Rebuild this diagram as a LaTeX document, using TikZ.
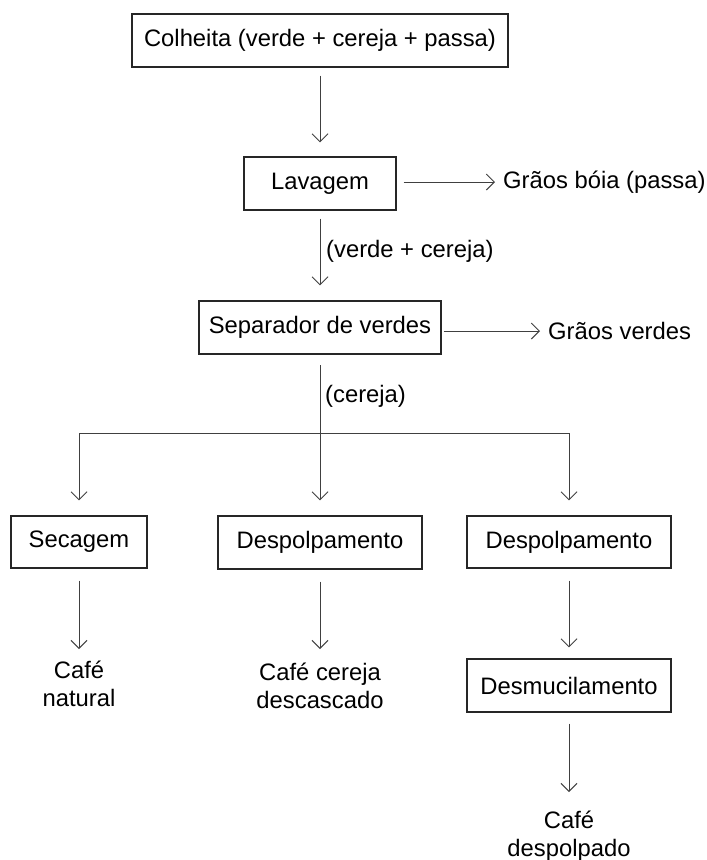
\documentclass[tikz,border=0pt]{standalone}
\usepackage{fontspec}
\setmainfont{Liberation Sans}
\usetikzlibrary{arrows.meta}
\begin{document}
\begin{tikzpicture}[x=1pt,y=-1pt,
  every node/.style={font=\fontsize{23.8}{28}\selectfont, inner sep=0pt, text=black},
  procbox/.style={draw=black!85, line width=1.1pt, minimum height=53pt},
  flow/.style={draw=black!75, line width=1pt, -{Straight Barb[length=8pt,width=16pt]}},
  plain/.style={draw=black!75, line width=1pt},
  outtext/.style={align=center}]
\useasboundingbox (0,0) rectangle (707,860);

% boxes
\node[procbox, minimum width=376pt] (colheita) at (320,40.5) {Colheita (verde + cereja + passa)};
\node[procbox, minimum width=152pt] (lav) at (320,183.5) {Lavagem};
\node[procbox, minimum width=242pt] (sep) at (320,327.5) {Separador de verdes};
\node[procbox, minimum width=136pt, minimum height=52pt] (sec) at (79,542) {Secagem};
\node[procbox, minimum width=204pt] (desp1) at (320,542.5) {Despolpamento};
\node[procbox, minimum width=204pt, minimum height=52pt] (desp2) at (569,542) {Despolpamento};
\node[procbox, minimum width=204pt] (desm) at (569,685.5) {Desmucilamento};

% side outputs
\node[anchor=west] (boia) at (503,182) {Grãos bóia (passa)};
\node[anchor=west] (verdes) at (548,331) {Grãos verdes};

% labels
\node[anchor=west] (lbl1) at (326,251) {(verde + cereja)};
\node[anchor=west] (lbl2) at (325,396) {(cereja)};

% final products
\node[outtext] (cafe1) at (79,684) {Café\\natural};
\node[outtext] (cafe2) at (320,686) {Café cereja\\descascado};
\node[outtext] (cafe3) at (569,836) {Café\\despolpado};

% junction coordinates
\coordinate (s0) at (320,365);
\coordinate (jc) at (320,433);
\coordinate (jl) at (79,433);
\coordinate (jr) at (569,433);
\coordinate (t1) at (79,649);
\coordinate (t2) at (320,649);
\coordinate (t3) at (569,792);

% connectors
\draw[flow, shorten <=8pt, shorten >=14pt] (colheita.south) -- (lav.north);
\draw[flow, shorten <=7pt, shorten >=8pt] (lav.east |- boia.west) -- (boia.west);
\draw[flow, shorten <=8pt, shorten >=15pt] (lav.south) -- (sep.north);
\draw[flow, shorten <=2pt, shorten >=8pt] (sep.east |- verdes.west) -- (verdes.west);
\draw[plain] (s0) -- (jc);
\draw[plain] (jl) -- (jr);
\draw[flow, shorten >=15pt] (jl) -- (sec.north);
\draw[flow, shorten >=15pt] (jc) -- (desp1.north);
\draw[flow, shorten >=15pt] (jr) -- (desp2.north);
\draw[flow, shorten <=12pt] (sec.south) -- (t1);
\draw[flow, shorten <=12pt] (desp1.south) -- (t2);
\draw[flow, shorten <=12pt, shorten >=11pt] (desp2.south) -- (desm.north);
\draw[flow, shorten <=11pt] (desm.south) -- (t3);
\end{tikzpicture}
\end{document}
